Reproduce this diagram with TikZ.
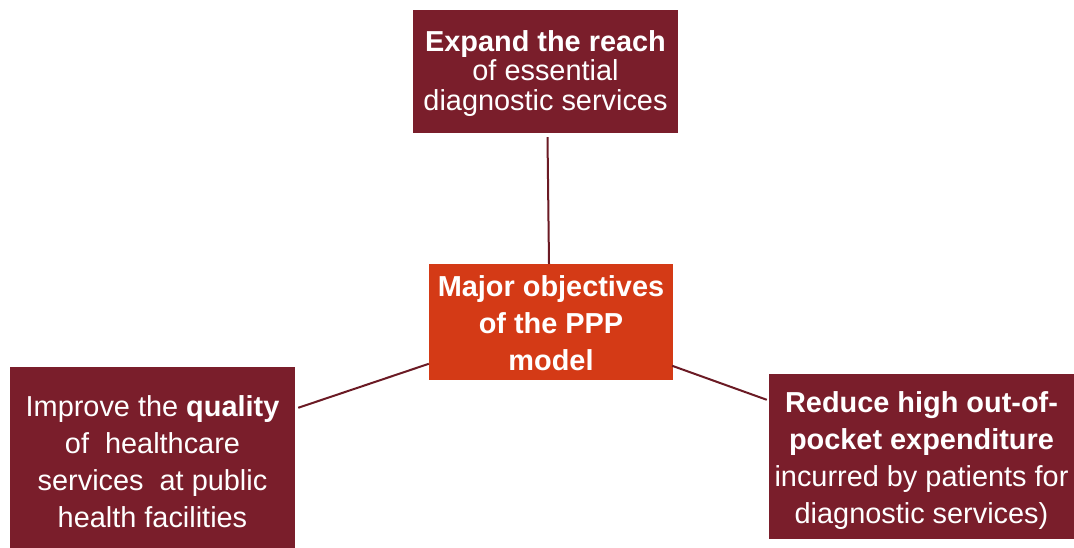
\documentclass[tikz,border=0pt]{standalone}
\usepackage{fontspec}
\setmainfont{Liberation Sans}
\usetikzlibrary{calc}
\definecolor{maroon}{HTML}{7A1E2B}
\definecolor{hubred}{HTML}{D43A16}
\definecolor{linkcol}{HTML}{6B1A24}
\tikzset{
  boxtext/.style={text=white, inner sep=0pt, align=center,
    font=\fontsize{29}{37}\selectfont},
  objbox/.style={fill=maroon, inner sep=0pt},
  hubbox/.style={fill=hubred, inner sep=0pt},
  link/.style={draw=linkcol, line width=2bp}
}
\begin{document}
\begin{tikzpicture}[x=1bp,y=-1bp]
  \useasboundingbox[fill=white] (0,0) rectangle (1074,548);

  % objectives around the hub
  \node[objbox, minimum width=265bp, minimum height=123bp,
        label={[boxtext, font=\fontsize{29}{29.5}\selectfont, yshift=-2bp]center:%
          \textbf{Expand the reach}\\of essential\\diagnostic services}] (top) at (545.5,71.5) {};
  \node[hubbox, minimum width=244bp, minimum height=116bp,
        label={[boxtext, font=\fontsize{29}{37}\selectfont\bfseries, yshift=-1bp]center:%
          Major objectives\\of the PPP\\model}] (ctr) at (551,322) {};
  \node[objbox, minimum width=285bp, minimum height=189bp,
        label={[boxtext]center:%
          Improve the \textbf{quality}\\of\ \ healthcare\\services\ \ at public\\health facilities}] (lft) at (152.5,461.5) {};
  \node[objbox, minimum width=305bp, minimum height=165bp,
        label={[boxtext, yshift=-4bp]center:%
          \textbf{Reduce high out-of-}\\\textbf{pocket expenditure}\\incurred by patients for\\diagnostic services)}] (rgt) at (921.5,456.5) {};

  % connectors
  \draw[link] ($(top.south)+(2,4)$) -- ($(ctr.north)+(-2,0)$);
  \draw[link] ($(lft.north east)+(3,41)$) -- ($(ctr.north west)+(0,100)$);
  \draw[link] ($(ctr.north east)+(-1,102)$) -- ($(rgt.north west)+(-2,26)$);
\end{tikzpicture}
\end{document}
